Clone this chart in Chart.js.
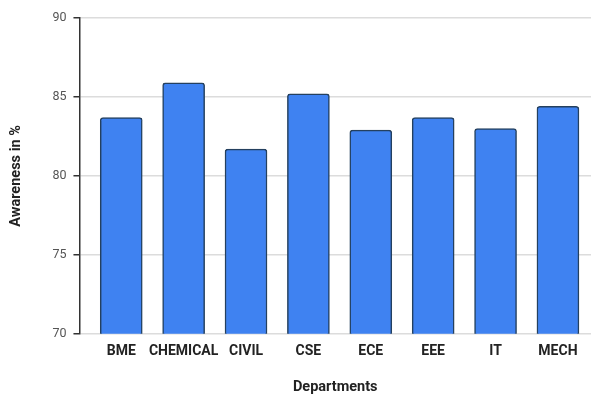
<!DOCTYPE html>
<html>
<head>
<meta charset="utf-8">
<script src="https://cdn.jsdelivr.net/npm/chart.js@4/dist/chart.umd.min.js"></script>
<style>
  html, body { margin: 0; padding: 0; background: #ffffff; }
  #wrap { width: 591px; height: 396px; }
</style>
</head>
<body>
<div id="wrap"><canvas id="c" width="591" height="396"></canvas></div>
<script>
// Awareness by department (%)
const departments = ['BME', 'CHEMICAL', 'CIVIL', 'CSE', 'ECE', 'EEE', 'IT', 'MECH'];
const awareness = [83.7, 85.9, 81.7, 85.2, 82.9, 83.7, 83.0, 84.4];
const yTicks = [70, 75, 80, 85, 90];

const points = departments.map((d, i) => ({ x: i, y: awareness[i] }));

new Chart(document.getElementById('c'), {
  type: 'bar',
  data: {
    datasets: [{
      data: points,
      backgroundColor: '#3f82f1',
      borderColor: '#24405f',
      borderWidth: 1.5,
      borderRadius: 3,
      borderSkipped: 'start',
      barThickness: 42
    }]
  },
  options: {
    responsive: false,
    animation: false,
    layout: { padding: { left: 8, right: 0, top: 18, bottom: 0 } },
    plugins: {
      legend: { display: false },
      tooltip: { enabled: false }
    },
    scales: {
      x: {
        type: 'linear',
        min: -0.67,
        max: 7.53,
        offset: false,
        grid: { display: false, drawTicks: false },
        border: { display: false },
        ticks: {
          stepSize: 1,
          includeBounds: false,
          autoSkip: false,
          maxRotation: 0,
          padding: 9,
          color: '#222222',
          font: { family: 'Roboto', size: 14, weight: 'bold' },
          callback: (v) => Number.isInteger(v) && departments[v] !== undefined ? departments[v] : null
        },
        title: {
          display: true,
          text: 'Departments',
          color: '#222222',
          font: { family: 'Roboto', size: 14.5, weight: 'bold' },
          padding: { top: 10, bottom: 0 }
        }
      },
      y: {
        min: yTicks[0],
        max: yTicks[yTicks.length - 1],
        afterBuildTicks: (scale) => { scale.ticks = yTicks.map(v => ({ value: v })); },
        grid: {
          color: '#dcdcdc',
          lineWidth: 1.5,
          tickColor: '#333333',
          tickLength: 6
        },
        border: { display: true, color: '#333333', width: 1.5 },
        ticks: {
          padding: 7,
          color: '#555555',
          font: { family: 'Roboto', size: 12.5 }
        },
        title: {
          display: true,
          text: 'Awareness in %',
          color: '#222222',
          font: { family: 'Roboto', size: 14.5, weight: 'bold' },
          padding: { top: 0, bottom: 20 }
        }
      }
    }
  }
});
</script>
</body>
</html>
